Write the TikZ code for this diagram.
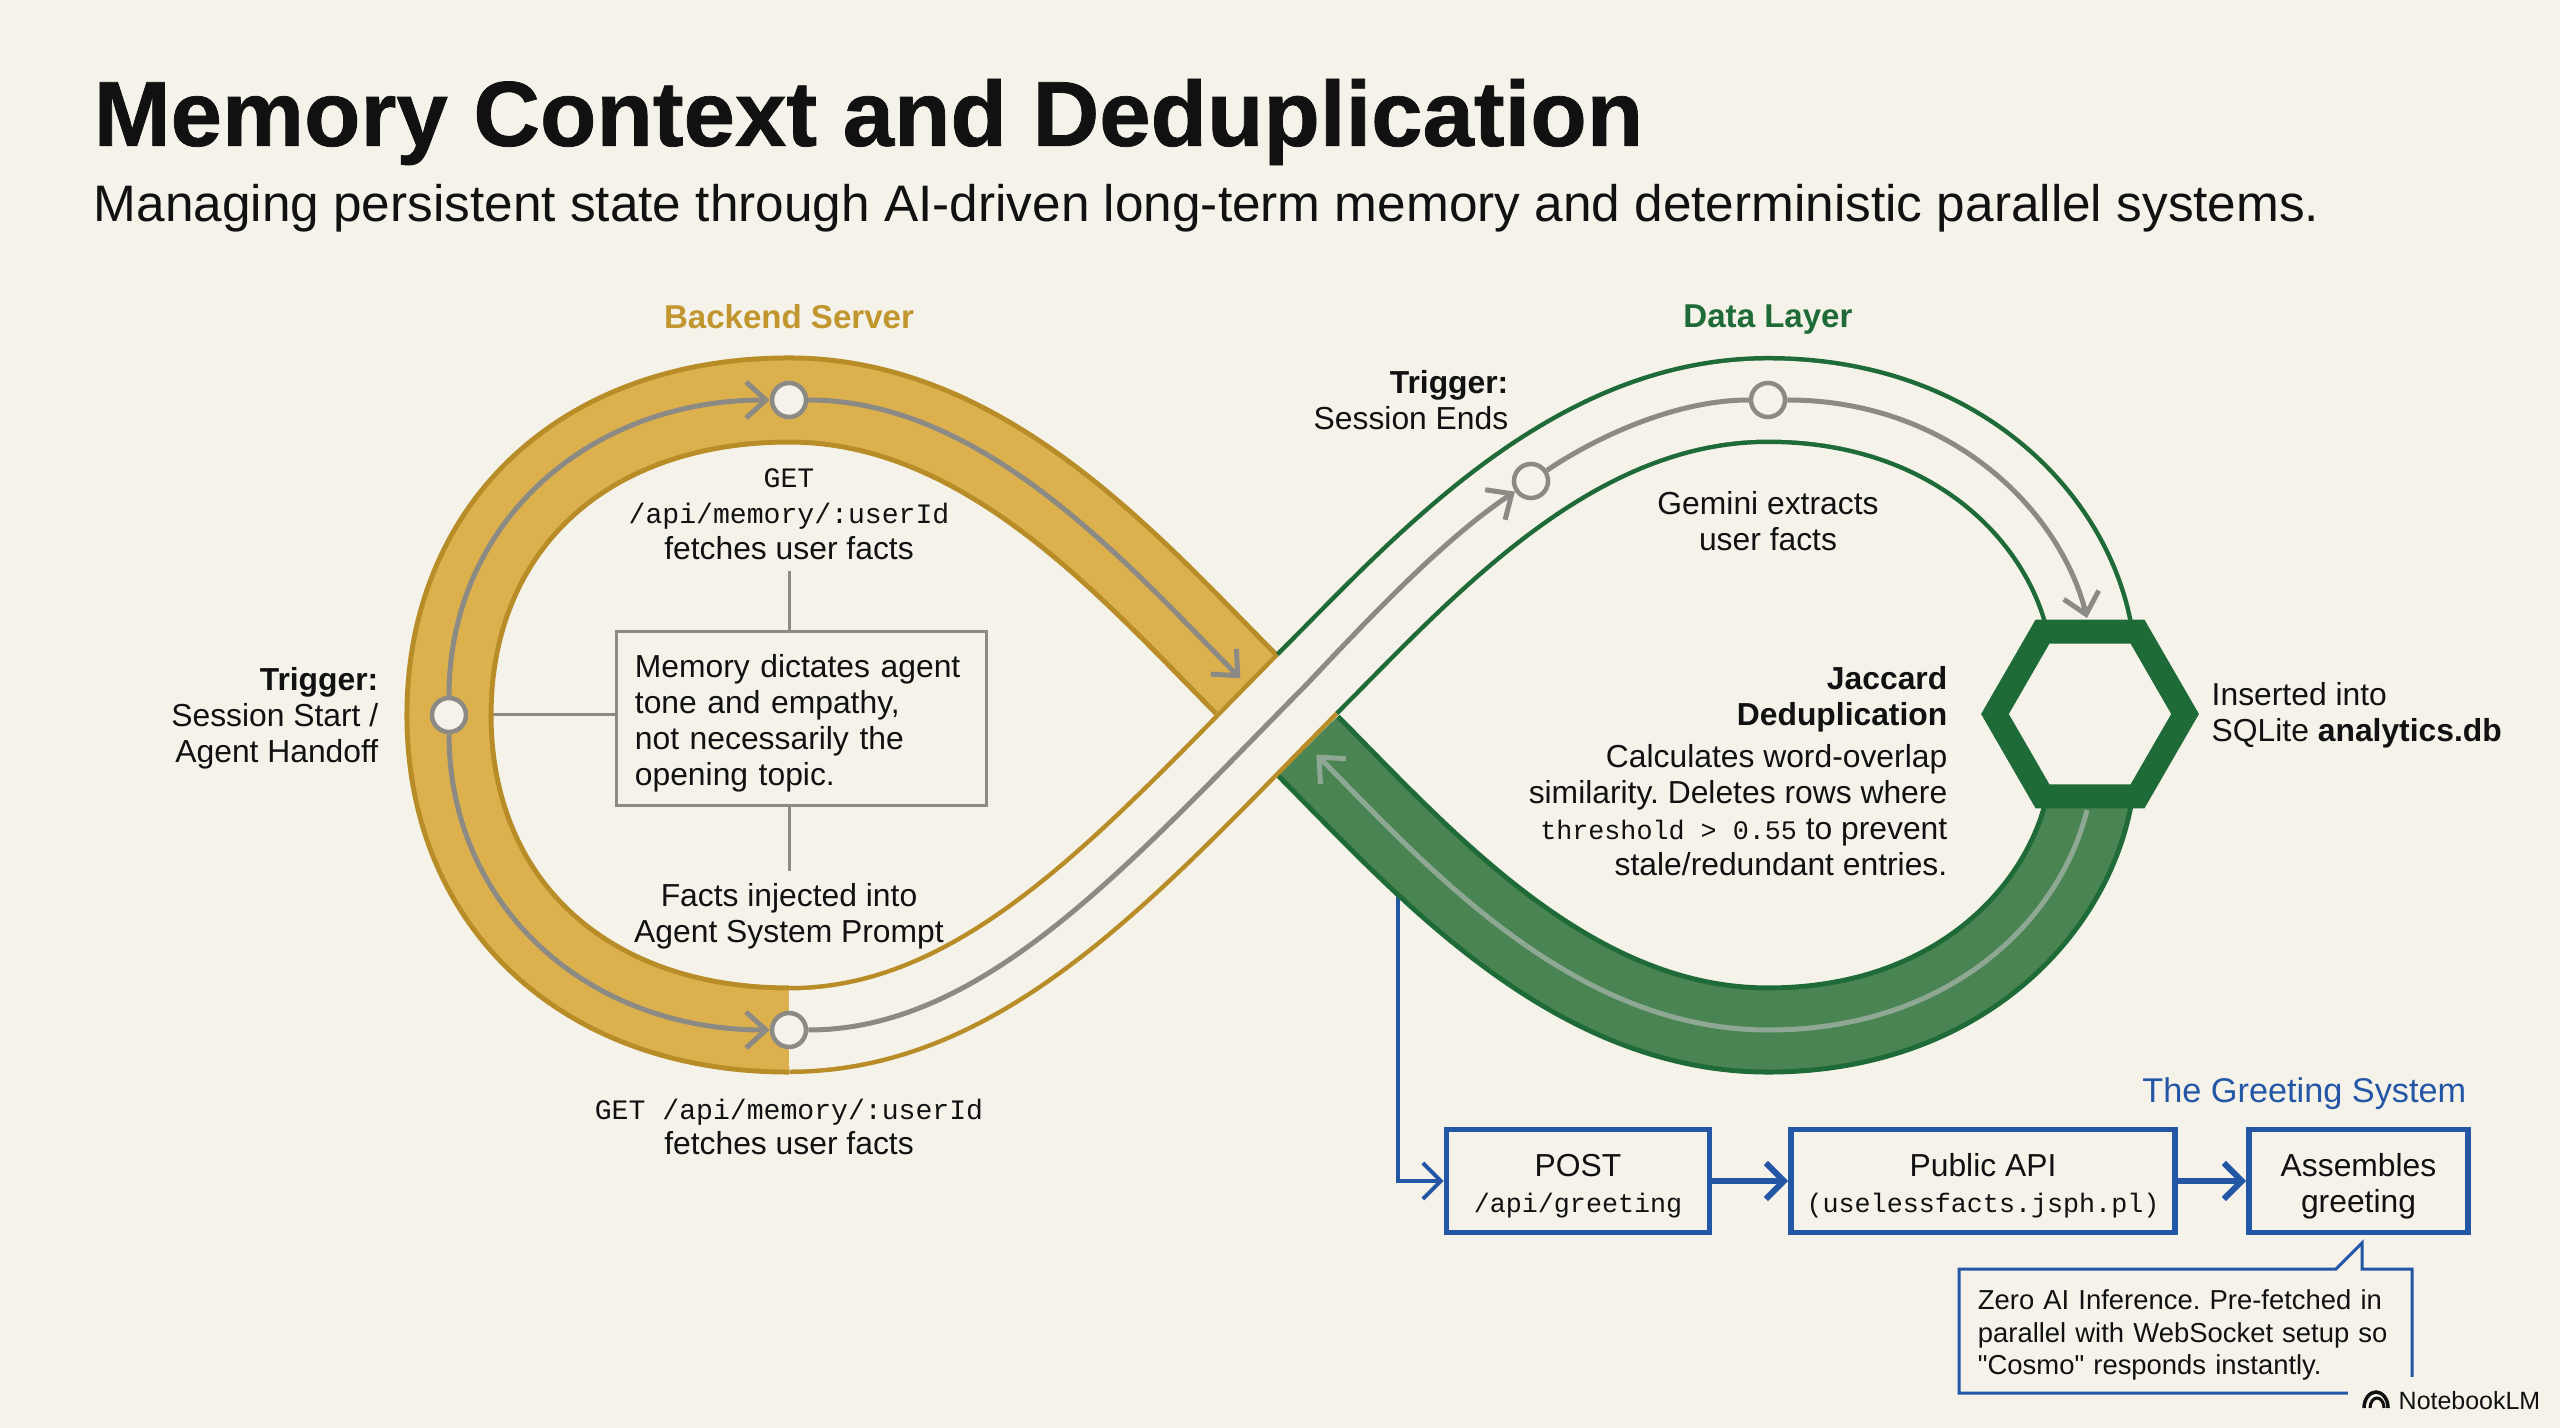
\documentclass[tikz,border=0pt]{standalone}
\usepackage{fontspec}
\setmainfont{Liberation Sans}[Ligatures=TeXOff]
\setmonofont{Liberation Mono}
\newfontface\headface{Liberation Sans Bold}[FakeBold=0.8]
\usepackage{xcolor}
\usetikzlibrary{shapes.geometric, arrows.meta, positioning, calc}
\definecolor{paperbg}{HTML}{F5F2EA}
\definecolor{backendgold}{HTML}{DDB04E}
\definecolor{goldedge}{HTML}{B88D28}
\definecolor{goldtitle}{HTML}{C1962F}
\definecolor{datagreen}{HTML}{4A8453}
\definecolor{greenedge}{HTML}{1F6B38}
\definecolor{greetblue}{HTML}{2456A6}
\definecolor{wiregray}{HTML}{8C8A84}
\definecolor{palewire}{HTML}{8EA893}
\definecolor{inkblack}{HTML}{111111}

\tikzset{
  goldband/.style={draw=goldedge, line width=0.05cm, double=backendgold, double distance=0.79cm},
  goldrib/.style={draw=goldedge, line width=0.045cm, double=paperbg, double distance=0.79cm},
  greenband/.style={draw=greenedge, line width=0.05cm, double=datagreen, double distance=0.79cm},
  greenrib/.style={draw=greenedge, line width=0.045cm, double=paperbg, double distance=0.79cm},
  wire/.style={draw=wiregray, line width=0.05cm},
  thinwire/.style={draw=wiregray, line width=0.03cm},
  wirehead/.style={wire, -{Straight Barb[length=0.2cm,width=0.36cm]}},
  stopdot/.style={circle, draw=wiregray, fill=paperbg, line width=0.045cm, minimum size=0.34cm, inner sep=0pt},
  lbl/.style={font=\fontsize{9.05}{10.2}\selectfont, text=inkblack, align=center, inner sep=0pt},
  lblright/.style={lbl, align=right},
  lblleft/.style={lbl, align=left},
  lane/.style={font=\fontsize{9.4}{11}\selectfont\bfseries},
  greetbox/.style={rectangle, draw=greetblue, line width=0.055cm, font=\fontsize{9.05}{10.2}\selectfont,
    text=inkblack, align=center, minimum height=1.03cm, inner sep=0pt},
  bluehead/.style={draw=greetblue, -{Straight Barb[length=0.18cm,width=0.36cm]}}
}
\newcommand{\cod}[1]{{\ttfamily\fontsize{8}{10.2}\selectfont #1}}
\newcommand{\codsm}[1]{{\ttfamily\fontsize{7.6}{10.2}\selectfont #1}}
\newcommand{\toplift}[1]{\rule{0pt}{#1}}
\AtBeginDocument{\frenchspacing}

\begin{document}
\begin{tikzpicture}[x=0.01cm, y=-0.01cm]
\useasboundingbox (0,0) rectangle (2560,1428);
\fill[paperbg] (0,0) rectangle (2560,1428);

% Heading
\node[anchor=west, inner sep=0pt, font=\headface\fontsize{26.26}{30}\selectfont, text=inkblack] (mainTitle) at (93,122)
    {Memory Context and Deduplication};
\node[anchor=west, inner sep=0pt, font=\fontsize{14.6}{19}\selectfont, text=inkblack] (subTitle) at (93,208)
    {Managing persistent state through AI-driven long-term memory and deterministic parallel systems.};
\node[lane, text=goldtitle] (backendLane) at (789,317) {Backend Server};
\node[lane, text=greenedge] (dataLane) at (1768,320) {Data Layer};

% Stops and joints on the loop
\coordinate (crossGold) at (1246,684);
\coordinate (crossUp) at (1307,684);
\coordinate (crossDown) at (1308,746);
\coordinate (hexTop) at (2087,618);
\coordinate (hexBot) at (2087,810);
\coordinate (greetTap) at (1398,860);
\coordinate (leftJoin) at (449,715);

% Labels that the thin lines hang from
\node[lbl] (getLabel) at (789,514) {\cod{GET}\\\cod{/api/memory/:userId}\\fetches user facts};
\node[lbl] (factsLabel) at (789,916) {Facts injected into\\Agent System Prompt};
\node[lblleft, draw=wiregray, line width=0.03cm, fill=paperbg, minimum width=3.69cm, minimum height=1.73cm,
    text width=3.33cm] (memoryBox) at (801.5,718.5)
    {\toplift{0.32cm}Memory dictates agent\\tone and empathy,\\not necessarily the\\opening topic.};
\draw[thinwire] (leftJoin) -- (leftJoin -| memoryBox.west);
\draw[thinwire, shorten >=0.11cm] (memoryBox.north -| getLabel) -- (getLabel.south);
\draw[thinwire, shorten >=0.12cm] (memoryBox.south -| factsLabel) -- (factsLabel.north);

% Blue tap runs under the green band
\node[greetbox, minimum width=2.63cm] (postBox) at (1578,1181) {\toplift{0.33cm}POST\\\codsm{/api/greeting}};
\node[greetbox, minimum width=3.84cm] (factsBox) at (1983,1181) {\toplift{0.33cm}Public API\\\codsm{(uselessfacts.jsph.pl)}};
\node[greetbox, minimum width=2.19cm] (greetBox) at (2358.5,1181) {\toplift{0.33cm}Assembles\\greeting};
\draw[bluehead, line width=0.04cm] (greetTap) |- (postBox);
\draw[bluehead, line width=0.06cm] (postBox) -- (factsBox);
\draw[bluehead, line width=0.06cm] (factsBox) -- (greetBox);

% Filled bands
\draw[goldband] (789,1030) .. controls (585,1030) and (449,904) .. (449,715)
    .. controls (449,526) and (585,400) .. (789,400)
    .. controls (985,400) and (1130,567) .. (crossGold);
\draw[greenband] (2096,770) -- (hexBot) .. controls (2060,920) and (1950,1030) .. (1768,1030)
    .. controls (1571,1030) and (1424,863) .. (crossDown);

% Open ribbons
\draw[greenrib] (crossUp) .. controls (1424,567) and (1571,400) .. (1768,400)
    .. controls (1950,400) and (2060,510) .. (hexTop) -- (2096,658);
\draw[goldrib] (789,1030) .. controls (985,1030) and (1130,863) .. (crossUp);
\draw[paperbg, line width=0.78cm] (1301,690) -- (1313,678);

\node[regular polygon, regular polygon sides=6, draw=greenedge, fill=paperbg, line width=0.24cm,
    minimum size=1.9cm, inner sep=0pt] (hexDedup) at (2090,714) {};

% Stops
\node[stopdot] (leftStop) at (leftJoin) {};
\node[stopdot] (topStop) at (789,400) {};
\node[stopdot] (bottomStop) at (789,1030) {};
\node[stopdot] (endStop) at (1531,481) {};
\node[stopdot] (extractStop) at (1768,400) {};

% Flow lines
\draw[wirehead] (leftStop) .. controls (449,526) and (585,400) .. (topStop);
\draw[wirehead] (leftStop) .. controls (449,904) and (585,1030) .. (bottomStop);
\draw[wirehead, shorten >=0.08cm] (topStop) .. controls (985,400) and (1130,567) .. (crossGold);
\draw[wirehead] (bottomStop) .. controls (985,1030) and (1130,863) .. (crossUp)
    .. controls (1371,616) and (1445,538) .. (endStop);
\draw[wire] (endStop) .. controls (1601,434) and (1679,400) .. (extractStop);
\draw[wirehead] (extractStop) .. controls (1950,400) and (2060,510) .. (hexTop);
\draw[wirehead, draw=palewire, shorten >=0.12cm] (hexBot) .. controls (2060,920) and (1950,1030) .. (1768,1030)
    .. controls (1571,1030) and (1424,863) .. (crossDown);

% Text round the loop
\node[lblright, anchor=east] (startTrigger) at (379,718) {\textbf{Trigger:}\\Session Start /\\Agent Handoff};
\node[lbl] (bottomGet) at (789,1127) {\cod{GET /api/memory/:userId}\\fetches user facts};
\node[lblright, anchor=east] (endTrigger) at (1509,400) {\textbf{Trigger:}\\Session Ends};
\node[lbl] (geminiLabel) at (1768,521) {Gemini extracts\\user facts};
\node[lblright, anchor=east] (jaccardLabel) at (1948,771)
    {\textbf{Jaccard}\\\textbf{Deduplication}\\[2pt]Calculates word-overlap\\similarity. Deletes rows where\\\codsm{threshold > 0.55} to prevent\\stale/redundant entries.};
\node[lblleft, anchor=west] (sqliteLabel) at (2211,715) {Inserted into\\SQLite \textbf{analytics.db}};

% Greeting note
\node[font=\fontsize{9.75}{11}\selectfont, text=greetblue, anchor=east, inner sep=0pt] (greetLane) at (2467,1094) {The Greeting System};
\node[lblleft, font=\fontsize{7.8}{9.3}\selectfont, minimum width=4.53cm, minimum height=1.24cm, text width=4.15cm, yshift=-0.04cm]
    (noteBox) at (2185.5,1331)
    {Zero AI Inference. Pre-fetched in\\parallel with WebSocket setup so\\"Cosmo" responds instantly.};
\coordinate (tailTip) at (2362,1243);
\coordinate (tailBase) at (2336,1269);
\draw[greetblue, line width=0.03cm] (2185.5,1269) -| (1959,1393) -- (2412,1393) |- (tailTip |- tailBase) -- (tailTip) -- (tailBase) -- cycle;

% Mark in the corner
\fill[paperbg] (2348,1377) rectangle (2560,1428);
\node[anchor=west, inner sep=0pt, font=\fontsize{7.1}{8}\selectfont, text=inkblack] (markLabel) at (2398,1401) {NotebookLM};
\draw[inkblack, line width=0.035cm] (2364,1408) arc[start angle=180, end angle=0, x radius=0.12cm, y radius=0.16cm];
\draw[inkblack, line width=0.03cm] (2370,1408) arc[start angle=180, end angle=0, x radius=0.07cm, y radius=0.1cm];
\end{tikzpicture}
\end{document}
